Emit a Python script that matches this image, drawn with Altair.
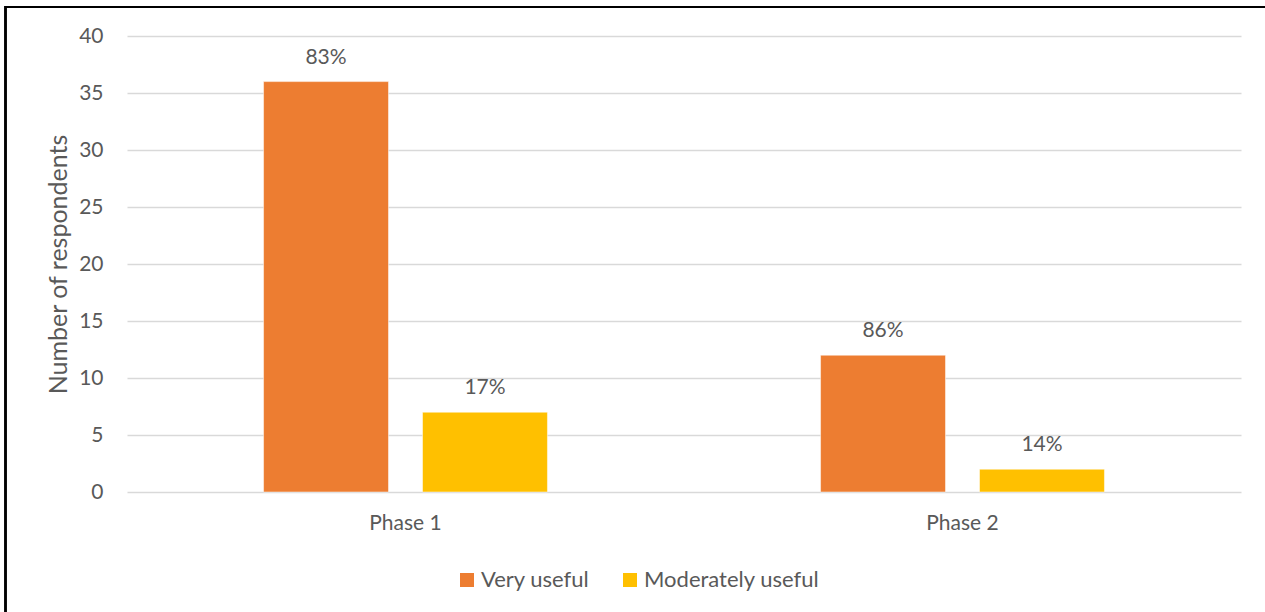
import altair as alt
import pandas as pd

# Survey responses per phase
phases = ["Phase 1", "Phase 1", "Phase 2", "Phase 2"]
ratings = ["Very useful", "Moderately useful", "Very useful", "Moderately useful"]
respondents = [36, 7, 12, 2]
share_labels = ["83%", "17%", "86%", "14%"]

rating_order = ["Very useful", "Moderately useful"]
rating_colors = ["#ED7D31", "#FFC000"]
y_ticks = [0, 5, 10, 15, 20, 25, 30, 35, 40]

df = pd.DataFrame({
    "phase": phases,
    "rating": ratings,
    "count": respondents,
    "share": share_labels,
})

FONT = "Lato"
GREY = "#595959"

x_enc = alt.X(
    "phase:N",
    title=None,
    scale=alt.Scale(paddingInner=0, paddingOuter=0),
    axis=alt.Axis(labelAngle=0, labelFontSize=21, labelColor=GREY, labelFont=FONT,
                  labelPadding=20, ticks=False, domain=False, grid=False),
)
xoff_enc = alt.XOffset(
    "rating:N",
    sort=rating_order,
    scale=alt.Scale(paddingInner=0.214, paddingOuter=0.859),
)
y_enc = alt.Y(
    "count:Q",
    scale=alt.Scale(domain=[0, 40], nice=False),
    axis=alt.Axis(
        values=y_ticks, title="Number of respondents", titleFont=FONT, titleFontSize=25,
        titleFontWeight="normal", titleColor=GREY, titleX=-69, titleY=228,
        titleAngle=-90, titleAlign="center", titleBaseline="middle",
        labelFont=FONT, labelFontSize=21, labelColor=GREY, labelPadding=24,
        ticks=False, domain=False, grid=True, gridColor="#D9D9D9", gridWidth=1.5,
    ),
)

bars = alt.Chart(df).mark_bar(stroke="white", strokeWidth=0.5).encode(
    x=x_enc,
    xOffset=xoff_enc,
    y=y_enc,
    color=alt.Color(
        "rating:N",
        sort=rating_order,
        scale=alt.Scale(domain=rating_order, range=rating_colors),
        legend=alt.Legend(
            title=None, orient="none", legendX=329, legendY=533, direction="horizontal",
            padding=0, symbolType="square", symbolSize=196, symbolStrokeWidth=0,
            labelFont=FONT, labelFontSize=22, labelColor=GREY, labelOffset=3,
            labelLimit=400, columnPadding=29,
        ),
    ),
)

labels = alt.Chart(df).mark_text(
    font=FONT, fontSize=21, color=GREY, baseline="alphabetic", dy=-18
).encode(
    x=alt.X("phase:N"),
    xOffset=alt.XOffset("rating:N", sort=rating_order),
    y=alt.Y("count:Q"),
    text="share:N",
)

# Thin black frame along the top and left edges
frame_top = alt.Chart(df).mark_rule(color="black", strokeWidth=2).encode(
    x=alt.value(-122), x2=alt.value(1200), y=alt.value(-29)
)
frame_left = alt.Chart(df).mark_rule(color="black", strokeWidth=2).encode(
    x=alt.value(-121.5), y=alt.value(-30), y2=alt.value(600)
)

chart = alt.layer(bars, labels, frame_top, frame_left).properties(
    width=1114,
    height=456,
    autosize=alt.AutoSizeParams(type="none"),
    padding={"left": 127, "top": 36, "right": 24, "bottom": 120},
    background="white",
).configure_view(stroke=None)

chart.save("out.html", embed_options={"renderer": "svg", "actions": False})
